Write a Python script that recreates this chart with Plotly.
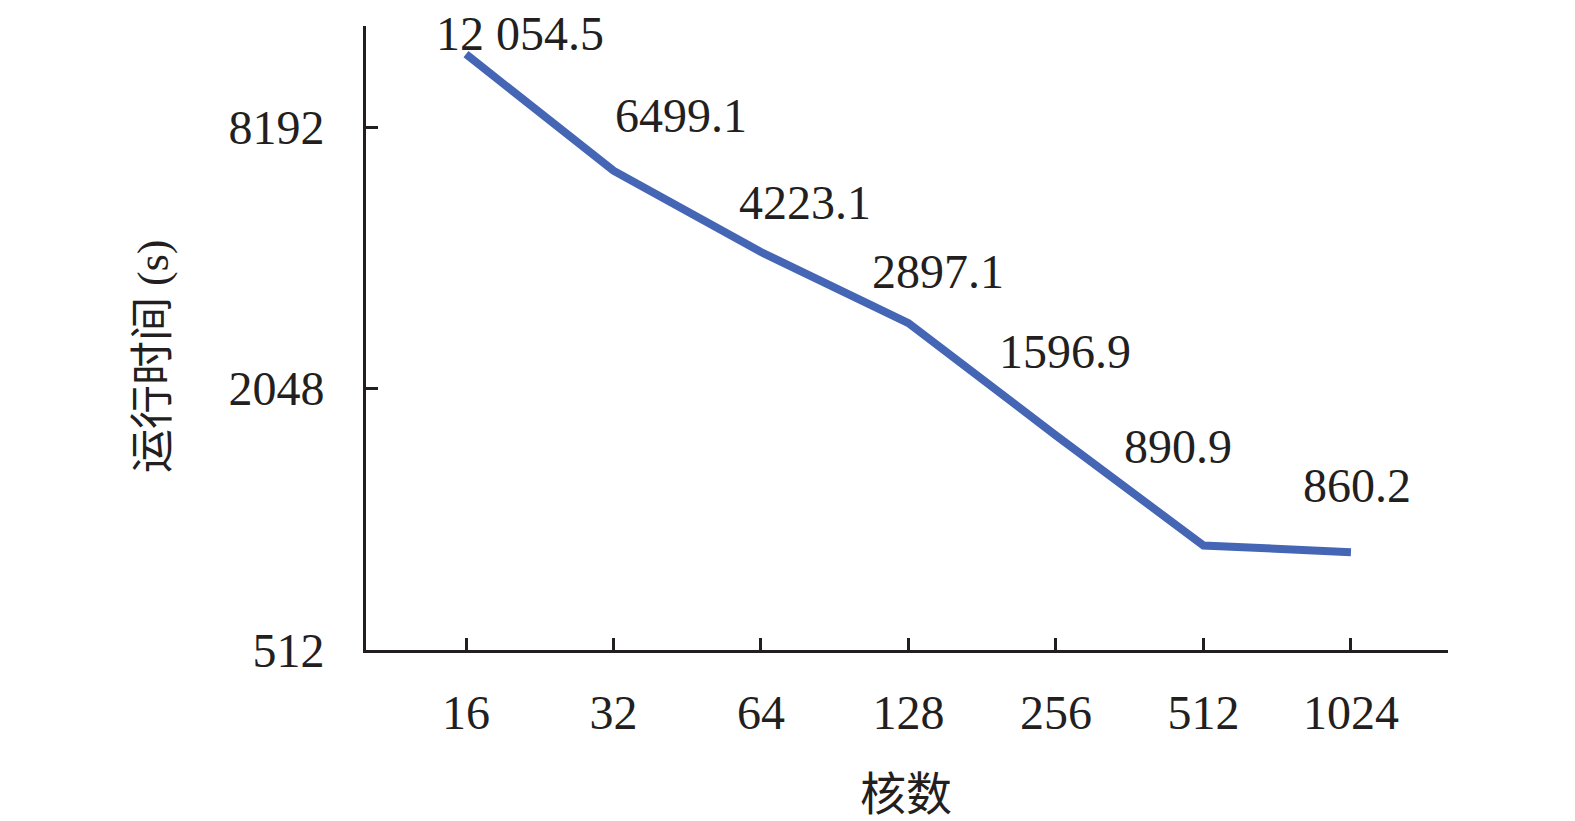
import math
import plotly.graph_objects as go

# 核数 vs 运行时间 (s), log2 y axis
cores = ["16", "32", "64", "128", "256", "512", "1024"]
run_time = [12054.5, 6499.1, 4223.1, 2897.1, 1596.9, 890.9, 860.2]
point_labels = ["12 054.5", "6499.1", "4223.1", "2897.1", "1596.9", "890.9", "860.2"]
y_ticks = [512, 2048, 8192]
y_top = 14000

# label offsets (px) from each point
label_dx = [54, 68, 44, 30, 9, -25, 6]
label_dy = [21, 55, 50, 52, 84, 99, 67]

ink = "#231f20"
serif = "Liberation Serif, Times New Roman, Noto Sans CJK SC, serif"
cjk = "Liberation Serif, Noto Sans CJK SC, serif"

xs = list(range(len(cores)))

fig = go.Figure()
fig.add_trace(go.Scatter(
    x=xs, y=run_time,
    mode="lines",
    line=dict(color="#4565b5", width=8),
    hoverinfo="skip",
    showlegend=False,
))

for i, (v, lab) in enumerate(zip(run_time, point_labels)):
    fig.add_annotation(
        x=i, y=math.log10(v), xref="x", yref="y",
        text=lab, showarrow=False,
        xshift=label_dx[i], yshift=label_dy[i],
        font=dict(family=serif, size=48, color=ink),
    )

fig.add_annotation(
    x=0.499, y=-0.232, xref="paper", yref="paper",
    text="核数", showarrow=False, yanchor="middle",
    font=dict(family=cjk, size=46, color=ink),
)
fig.add_annotation(
    x=-0.197, y=0.471, xref="paper", yref="paper",
    text="运行时间 (s)", showarrow=False, textangle=-90,
    xanchor="center", yanchor="middle",
    font=dict(family=cjk, size=44, color=ink),
)

# page body has an 8px margin, so pull the plot area back by that much
fig.update_layout(
    width=1575, height=821,
    margin=dict(l=358, r=135, t=18, b=179),
    paper_bgcolor="white", plot_bgcolor="white",
    font=dict(family=serif, size=48, color=ink),
)
fig.update_xaxes(
    range=[-0.678, len(cores) - 1 + 0.658],
    tickvals=xs, ticktext=cores,
    showline=True, linecolor=ink, linewidth=3,
    ticks="inside", ticklen=12, tickwidth=3, tickcolor=ink,
    ticklabelstandoff=18,
    showgrid=False, zeroline=False,
    tickfont=dict(family=serif, size=48, color=ink),
)
fig.update_yaxes(
    type="log",
    range=[math.log10(y_ticks[0]), math.log10(y_top)],
    tickvals=y_ticks + [y_top], ticktext=[str(t) for t in y_ticks] + [""],
    showline=True, linecolor=ink, linewidth=3,
    ticks="inside", ticklen=12, tickwidth=3, tickcolor=ink,
    ticklabelstandoff=29,
    showgrid=False, zeroline=False,
    tickfont=dict(family=serif, size=48, color=ink),
)

fig.write_html("out.html")
